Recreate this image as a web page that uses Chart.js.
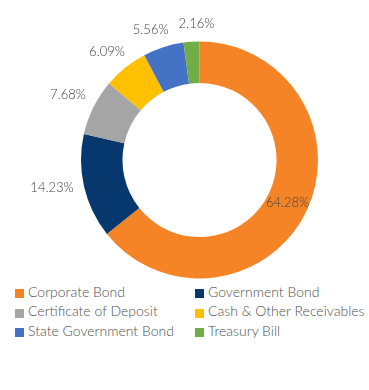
<!DOCTYPE html>
<html><head><meta charset="utf-8">
<script src="https://cdn.jsdelivr.net/npm/chart.js@4/dist/chart.umd.min.js"></script>
<style>
html,body{margin:0;padding:0;background:#fff;}
#wrap{position:relative;width:369px;height:390px;overflow:hidden;}
#c{position:absolute;left:0;top:0;}
.lb{position:absolute;width:9px;height:9px;}
.lt{position:absolute;font-family:Lato,sans-serif;font-weight:300;font-size:14px;color:#4f4f4f;white-space:nowrap;line-height:16px;}
</style></head>
<body><div id="wrap"><canvas id="c" width="369" height="280"></canvas><div id="legend"></div></div>
<script>
const categories = ["Corporate Bond","Government Bond","Certificate of Deposit","Cash & Other Receivables","State Government Bond","Treasury Bill"];
const values = [64.28,14.23,7.68,6.09,5.56,2.16];
const labels = ["64.28%","14.23%","7.68%","6.09%","5.56%","2.16%"];
const colors = ["#F58426","#06386E","#A5A5A5","#FFC000","#4472C4","#70AD47"];

const labelPlugin = {
  id:'sliceLabels',
  afterDatasetsDraw(chart){
    const ctx = chart.ctx;
    const meta = chart.getDatasetMeta(0);
    ctx.save();
    ctx.font = '300 13px Lato, sans-serif';
    ctx.fillStyle = '#404040';
    ctx.textBaseline = 'alphabetic';
    ctx.textAlign = 'center';
    const capH = 13*0.72;
    const clamp = v => Math.max(-1, Math.min(1, v));
    const placed = [];
    meta.data.forEach((arc,i)=>{
      const mid = (arc.startAngle+arc.endAngle)/2;
      const dx = Math.cos(mid), dy = Math.sin(mid);
      const txt = labels[i];
      const w = ctx.measureText(txt).width/2;
      let x,y;
      if (values[i] > 50) {
        const r = (arc.innerRadius+arc.outerRadius)/2;
        x = arc.x + dx*r; y = arc.y + dy*r;
      } else {
        const px = arc.x + dx*arc.outerRadius, py = arc.y + dy*arc.outerRadius;
        const s = clamp(dx*3) * (0.55 + 0.45*Math.pow(Math.abs(dx),4));
        x = px + dx*11.6 + s*w;
        y = py + dy*8 + clamp(dy*2)*6 - 4;
        // simple overlap avoidance with already placed outside labels (clockwise push)
        const tx = -dy, ty = dx;
        placed.forEach(p=>{
          const ox = Math.min(x+w+5, p.x+p.w+5) - Math.max(x-w-5, p.x-p.w-5);
          const oy = Math.min(y+8, p.y+8) - Math.max(y-8, p.y-8);
          if (ox > 0 && oy > 0 && Math.abs(tx) > 0.3) {
            const shift = ox/Math.abs(tx);
            x += tx*shift*Math.sign(tx)*Math.sign(tx);
            y += ty*shift;
          }
        });
        placed.push({x,y,w});
      }
      ctx.fillText(txt, x, y + capH/2);
    });
    ctx.restore();
  }
};

new Chart(document.getElementById('c'), {
  type:'doughnut',
  data:{labels:categories,datasets:[{data:values,backgroundColor:colors,borderWidth:0}]},
  options:{
    responsive:false,animation:false,cutout:'65%',
    layout:{padding:{top:41.5,bottom:1.5,left:30,right:0}},
    plugins:{legend:{display:false},tooltip:{enabled:false}}
  },
  plugins:[labelPlugin]
});

// legend: two columns, three rows
const colX = [15,195];
const rowBase = [297.3,316.7,336];
const lg = document.getElementById('legend');
categories.forEach((c,i)=>{
  const col = i%2, row = Math.floor(i/2);
  const b = document.createElement('div');
  b.className='lb';
  b.style.background = colors[i];
  b.style.left = colX[col]+'px';
  b.style.top = (rowBase[row]-8)+'px';
  lg.appendChild(b);
  const t = document.createElement('div');
  t.className='lt';
  t.style.left = (colX[col]+13)+'px';
  t.style.top = (rowBase[row]-13.4)+'px';
  t.textContent = c;
  lg.appendChild(t);
});
</script></body></html>
